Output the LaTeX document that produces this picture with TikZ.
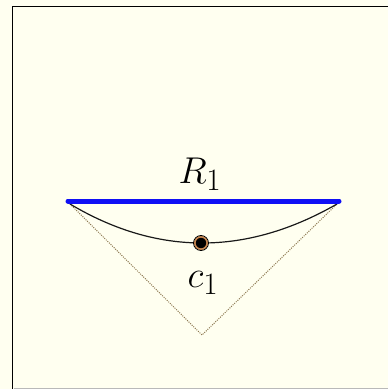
\documentclass[tikz,border=0pt]{standalone}
\usepackage{graphicx}
\definecolor{ivory}{RGB}{255,255,240}
\definecolor{ringc}{RGB}{200,135,80}
\definecolor{dotline}{RGB}{140,120,80}
\definecolor{rblue}{RGB}{15,15,245}
\newcommand{\biglbl}[1]{\scalebox{1.5}{\Huge$#1$}}
\begin{document}
\begin{tikzpicture}[x=1pt,y=-1pt,
  frame/.style={line width=1.8pt,black},
  chord/.style={line width=5pt,rblue,line cap=round},
  arcline/.style={line width=1.2pt,black!90},
  tri/.style={line width=1pt,dotline,dash pattern=on 1pt off 1.2pt},
  lbl/.style={inner sep=0pt,anchor=base},
  pt/.style={circle,fill=black,draw=ringc,line width=1.8pt,minimum size=12.5pt,inner sep=0pt}]
\useasboundingbox (0,0) rectangle (388,389);
\fill[ivory] (0,0) rectangle (388,389);
\draw[frame] (12.5,389) -- (12.5,6.5) -- (388,6.5);
\draw[gray!55,line width=1pt] (13.5,388.5) -- (388,388.5);
% coordinates
\coordinate (L) at (68,201);
\coordinate (R) at (339,201);
\coordinate (cl) at (70,204);
\coordinate (cr) at (337,204);
\coordinate (ctlA) at (157.3,256);
\coordinate (ctlB) at (246.3,256);
\coordinate (apex) at (202,335);
% dotted triangle
\draw[tri] (cl) -- (apex) -- (cr);
% arc
\draw[arcline] (cl) .. controls (ctlA) and (ctlB) .. (cr);
% chord
\draw[chord] (L) -- (R);
% point
\node[pt] (c1) at (201,243) {};
\draw[black,line width=0.8pt] (c1.center) circle (7.5pt);
% labels
\node[lbl] (lR) at (200,183) {\biglbl{R_1}};
\node[lbl] (lc) at (203,287) {\biglbl{c_1}};
\end{tikzpicture}
\end{document}
